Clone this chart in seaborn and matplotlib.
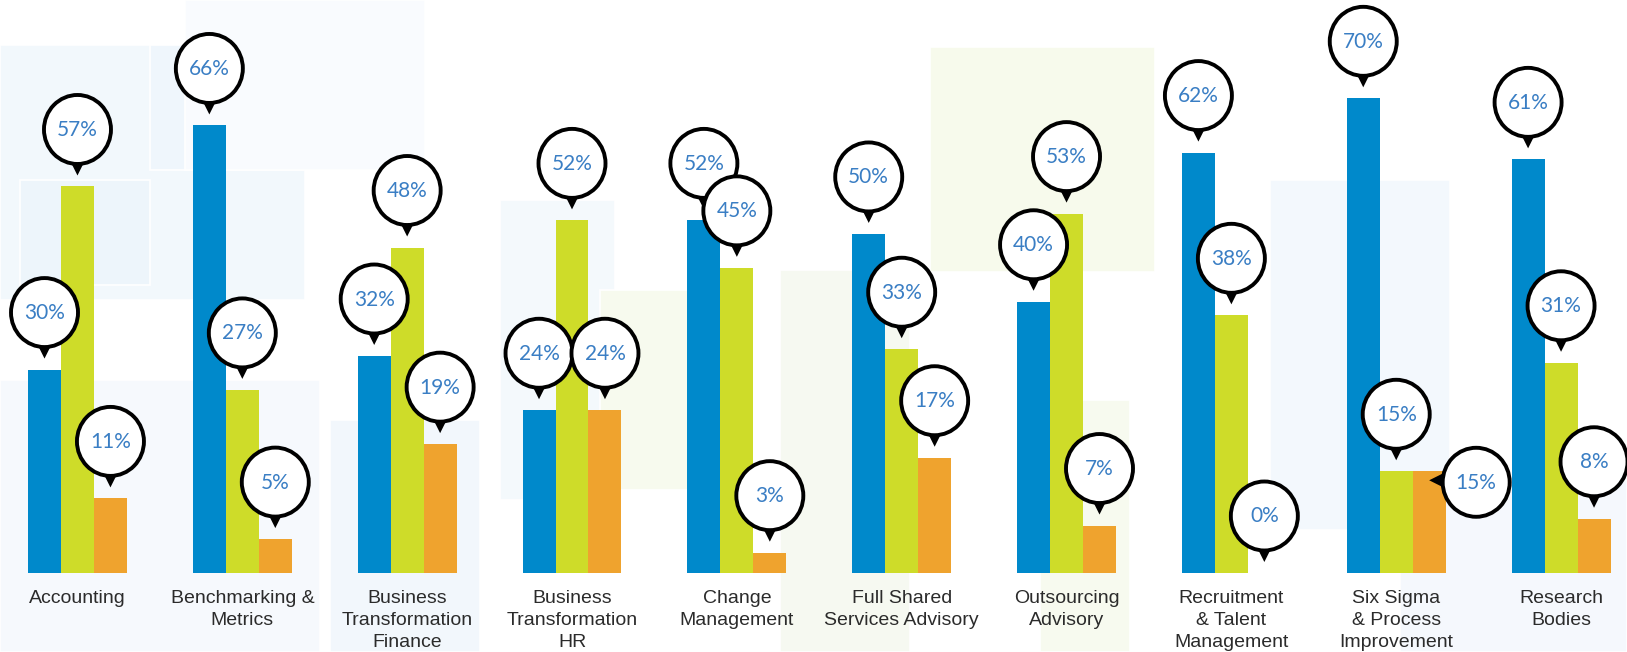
import matplotlib
matplotlib.use('Agg')  # headless
import matplotlib.pyplot as plt
from matplotlib.patches import Ellipse, Polygon, Rectangle
from matplotlib.transforms import ScaledTranslation
import seaborn as sns
import pandas as pd

# --- data ---
categories = [
    'Accounting',
    'Benchmarking &\nMetrics',
    'Business\nTransformation\nFinance',
    'Business\nTransformation\nHR',
    'Change\nManagement',
    'Full Shared\nServices Advisory',
    'Outsourcing\nAdvisory',
    'Recruitment\n& Talent\nManagement',
    'Six Sigma\n& Process\nImprovement',
    'Research\nBodies',
]
series_names = ['Blue', 'Green', 'Orange']
blue_vals = [30, 66, 32, 24, 52, 50, 40, 62, 70, 61]
green_vals = [57, 27, 48, 52, 45, 33, 53, 38, 15, 31]
orange_vals = [11, 5, 19, 24, 3, 17, 7, 0, 15, 8]

colors = ['#0089cb', '#cedc29', '#efa32e']
label_color = '#3a7ec4'

# faint background tiles (x, y, w, h in px from top-left, colour)
bg_tiles = [
    (0, 45, 305, 255, '#f2f8fc'),
    (150, 45, 160, 125, '#eff6fc'),
    (20, 180, 130, 105, '#edf5fb'),
    (185, 0, 240, 170, '#f9fbfe'),
    (0, 380, 320, 272, '#f6f9fd'),
    (330, 420, 150, 232, '#f2f7fc'),
    (500, 200, 115, 300, '#f4f9fc'),
    (600, 290, 150, 200, '#f7faee'),
    (780, 270, 130, 382, '#f6f9f1'),
    (930, 47, 225, 225, '#f7faec'),
    (1040, 400, 90, 252, '#f7faef'),
    (1270, 180, 180, 350, '#f3f8fd'),
    (1400, 480, 227, 172, '#f5f8fd'),
]

W, H = 1627, 652
sns.set_style('white')
plt.rcParams['font.family'] = ['Liberation Sans', 'DejaVu Sans']

df = pd.DataFrame({
    'category': categories * 3,
    'series': [s for s in series_names for _ in categories],
    'value': blue_vals + green_vals + orange_vals,
})

fig = plt.figure(figsize=(W / 100, H / 100), dpi=100)
fig.patch.set_facecolor('white')
for x, y, w, h, c in bg_tiles:
    fig.add_artist(Rectangle((x / W, 1 - (y + h) / H), w / W, h / H,
                             transform=fig.transFigure, facecolor=c,
                             edgecolor='white', linewidth=1.2, zorder=-5))

ax = fig.add_axes([0, 79 / H, 1, 573 / H])
ax.set_facecolor('none')
sns.barplot(data=df, x='category', y='value', hue='series', palette=colors,
            width=0.6, saturation=1, linewidth=0, legend=False, ax=ax)

ax.set_xlim(-0.47, 9.40)
ax.set_ylim(0, 84.5)
ax.set_xlabel('')
ax.set_ylabel('')
ax.set_yticks([])
for s in ax.spines.values():
    s.set_visible(False)
ax.set_xticks(range(len(categories)))
ax.set_xticklabels(categories, linespacing=1.38, fontsize=14, color='#2b2b2b')
ax.tick_params(axis='x', length=0, pad=12)


def callout(x, y, text, z, side='top'):
    tr = fig.dpi_scale_trans + ScaledTranslation(x, y, ax.transData)
    if side == 'top':
        cx, cy = 0.0, 0.57
        tri = [(-0.08, 0.27), (0.08, 0.27), (0.0, 0.11)]
    else:
        cx, cy = 0.47, -0.11
        tri = [(0.16, -0.01), (0.16, -0.17), (0.0, -0.09)]
    ax.add_patch(Polygon(tri, closed=True, facecolor='black', edgecolor='none',
                         transform=tr, zorder=z, clip_on=False))
    ax.add_patch(Ellipse((cx, cy), 0.67, 0.69, facecolor='white', edgecolor='black',
                         linewidth=2.8, transform=tr, zorder=z + 0.1, clip_on=False))
    ax.text(cx, cy - 0.005, text, transform=tr, ha='center', va='center', fontsize=15,
            family=['Lato', 'DejaVu Sans'], fontweight='normal',
            color=label_color, zorder=z + 0.2, clip_on=False)


# the Six Sigma orange bubble sits to the right of its bar
side_callouts = {(8, 2): 'right'}

z = 10
for i in range(len(categories)):
    for j, cont in enumerate(ax.containers):
        bar = cont.patches[i]
        bx = bar.get_x() + bar.get_width() / 2
        h = bar.get_height()
        callout(bx, h, f'{h:.0f}%', z, side_callouts.get((i, j), 'top'))
        z += 1

fig.savefig('out.png', dpi=100)
plt.close(fig)
